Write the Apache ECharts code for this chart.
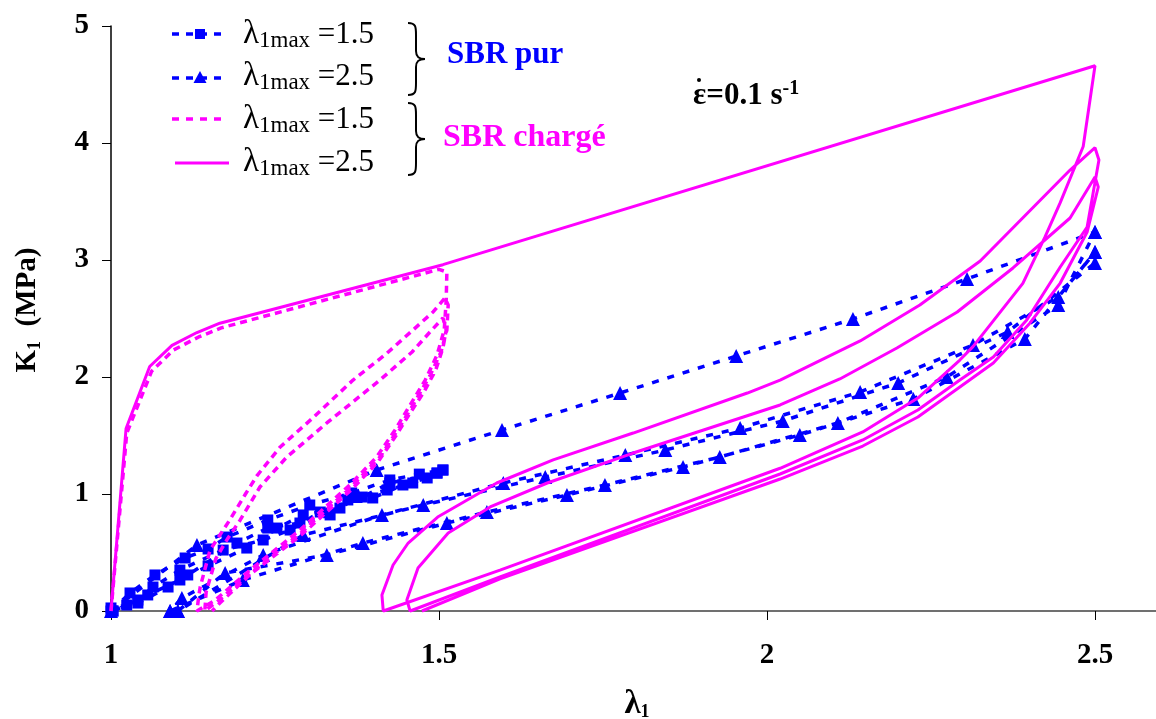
<!DOCTYPE html>
<html><head><meta charset="utf-8">
<script src="https://cdn.jsdelivr.net/npm/echarts@6/dist/echarts.min.js"></script>
<style>html,body{margin:0;padding:0;background:#fff}#c{width:1156px;height:719px}</style>
</head><body><div id="c"></div>
<script>
// ---- tick values ----
const xTicks = [1, 1.5, 2, 2.5];
const yTicks = [0, 1, 2, 3, 4, 5];

// ---- SBR pur, lambda1max = 1.5 (blue, squares) ----
const purA_load1 = [[1,0],[1.029,0.154],[1.067,0.308],[1.113,0.453],[1.148,0.53],[1.177,0.632],[1.239,0.778],[1.303,0.906],[1.367,1.009],[1.425,1.12],[1.47,1.17],[1.506,1.205]];
const purA_unload1 = [[1.506,1.205],[1.482,1.137],[1.445,1.077],[1.399,0.966],[1.375,0.97],[1.349,0.88],[1.293,0.821],[1.253,0.709],[1.207,0.538],[1.148,0.385],[1.105,0.265],[1.056,0.137],[1.024,0.051],[1.003,0]];
const purA_reload2 = [[1.003,0],[1.041,0.094],[1.064,0.205],[1.105,0.35],[1.171,0.521],[1.232,0.607],[1.273,0.692],[1.319,0.846],[1.383,0.974],[1.425,1.094],[1.497,1.179]];
const purA_unload2 = [[1.497,1.179],[1.46,1.094],[1.421,1.034],[1.361,0.949],[1.334,0.821],[1.288,0.752],[1.239,0.709],[1.192,0.581],[1.117,0.308],[1.087,0.205],[1.041,0.068],[1.0,0.026]];

// ---- SBR pur, lambda1max = 2.5 (blue, triangles) ----
const purB_load1 = [[1,0],[1.131,0.564],[1.405,1.205],[1.596,1.547],[1.776,1.863],[1.953,2.179],[2.131,2.496],[2.305,2.838],[2.5,3.239]];
const purB_unload1 = [[2.5,3.239],[2.444,2.615],[2.274,2.0],[2.108,1.607],[1.928,1.316],[1.753,1.077],[1.573,0.846],[1.384,0.581],[1.201,0.265],[1.09,0]];
const purB_reload2 = [[1.09,0],[1.108,0.111],[1.232,0.479],[1.413,0.821],[1.598,1.094],[1.784,1.333],[1.959,1.564],[2.142,1.872],[2.314,2.274],[2.444,2.684],[2.5,3.068]];
const purB_unload2 = [[2.5,3.068],[2.393,2.325],[2.223,1.812],[2.05,1.504],[1.872,1.231],[1.695,0.991],[1.512,0.752],[1.329,0.479],[1.174,0.325],[1.102,0]];
const purB_reload3 = [[1.102,0],[1.293,0.65],[1.476,0.906],[1.662,1.145],[1.845,1.376],[2.024,1.624],[2.2,1.949],[2.367,2.385],[2.5,2.974]];

// ---- SBR chargé, lambda1max = 1.5 (magenta dashed) ----
const chA_load1 = [[1,0],[1.024,1.52],[1.062,2.05],[1.095,2.23],[1.133,2.34],[1.168,2.42],[1.5,2.92]];
const chA_unload1 = [[1.5,2.92],[1.512,2.897],[1.511,2.658],[1.508,2.402],[1.497,2.188],[1.479,1.974],[1.456,1.761],[1.433,1.547],[1.405,1.316],[1.364,1.077],[1.288,0.692],[1.212,0.35],[1.159,0.094],[1.131,0]];
const chA_reload2 = [[1.131,0],[1.134,0.137],[1.136,0.205],[1.151,0.521],[1.181,0.778],[1.205,1.0],[1.223,1.16],[1.258,1.402],[1.308,1.652],[1.369,1.974],[1.42,2.2],[1.46,2.4],[1.491,2.556],[1.509,2.675]];
const chA_unload2 = [[1.509,2.675],[1.514,2.615],[1.512,2.402],[1.503,2.214],[1.486,2.009],[1.463,1.786],[1.439,1.564],[1.41,1.316],[1.367,1.068],[1.291,0.675],[1.215,0.333],[1.163,0.085],[1.143,0]];
const chA_reload3 = [[1.143,0],[1.145,0.162],[1.16,0.45],[1.178,0.62],[1.197,0.778],[1.227,1.06],[1.268,1.316],[1.329,1.607],[1.41,1.974],[1.459,2.214],[1.489,2.402],[1.506,2.504]];
const chA_unload3 = [[1.506,2.504],[1.511,2.402],[1.506,2.248],[1.495,2.06],[1.477,1.872],[1.457,1.701],[1.434,1.496],[1.407,1.274],[1.366,1.034],[1.29,0.65],[1.213,0.316],[1.166,0.068],[1.154,0]];

// ---- SBR chargé, lambda1max = 2.5 (magenta solid) ----
const chB_load1 = [[1,0],[1.023,1.56],[1.059,2.09],[1.093,2.27],[1.131,2.38],[1.166,2.46],[1.506,2.96],[2.5,4.66]];
const chB_unload1 = [[2.5,4.66],[2.482,3.97],[2.447,3.49],[2.424,3.2],[2.39,2.8],[2.314,2.26],[2.294,2.145],[2.23,1.82],[2.146,1.53],[2.02,1.22],[1.593,0.35],[1.415,0]];
const chB_reload2 = [[1.415,0],[1.413,0.137],[1.43,0.393],[1.453,0.581],[1.498,0.803],[1.588,1.094],[1.674,1.291],[1.796,1.521],[1.97,1.863],[2.02,1.974],[2.142,2.308],[2.233,2.615],[2.325,2.991],[2.462,3.769],[2.5,3.96]];
const chB_unload2 = [[2.5,3.96],[2.506,3.855],[2.488,3.282],[2.447,2.94],[2.396,2.487],[2.345,2.171],[2.294,1.974],[2.23,1.718],[2.146,1.462],[2.02,1.171],[1.593,0.291],[1.456,0]];
const chB_reload3 = [[1.456,0],[1.451,0.094],[1.468,0.368],[1.514,0.667],[1.578,0.889],[1.665,1.094],[1.796,1.35],[2.02,1.761],[2.111,1.983],[2.198,2.248],[2.29,2.556],[2.375,2.932],[2.462,3.359],[2.5,3.709]];
const chB_unload3 = [[2.5,3.709],[2.505,3.624],[2.488,3.239],[2.447,2.803],[2.401,2.462],[2.345,2.12],[2.294,1.915],[2.23,1.658],[2.146,1.41],[2.02,1.128],[1.593,0.274],[1.474,0]];

// ---- labels ----
const legendValues = ['1.5', '2.5', '1.5', '2.5'];
const groupLabels = ['SBR pur', 'SBR chargé'];

const BLUE = '#0000ff', MAG = '#ff00ff';
const SERIF = "'Liberation Serif', 'DejaVu Serif', serif";

const purA = [].concat(purA_load1, purA_unload1, purA_reload2, purA_unload2);
const purB = [].concat(purB_load1, purB_unload1, purB_reload2, purB_unload2, purB_reload3);
const chA = [].concat(chA_load1, chA_unload1, chA_reload2, chA_unload2, chA_reload3, chA_unload3);
const chB = [].concat(chB_load1, chB_unload1, chB_reload2, chB_unload2, chB_reload3, chB_unload3);

const chart = echarts.init(document.getElementById('c'));

function lamRich(v) { return '{l|λ}{s|1max}{e| =' + v + '}'; }
const lamStyleRich = {
  l: { fontSize: 33, fontFamily: SERIF, lineHeight: 36, fill: '#000' },
  s: { fontSize: 23, fontFamily: SERIF, lineHeight: 30, verticalAlign: 'bottom', fill: '#000' },
  e: { fontSize: 31, fontFamily: SERIF, lineHeight: 36, fill: '#000' }
};
const rowY = [34.5, 76.5, 119.5, 162.5];

const graphics = [];
// legend symbols
graphics.push({ type: 'line', shape: { x1: 172, y1: 34, x2: 222, y2: 34 }, style: { stroke: BLUE, lineWidth: 3.5, lineDash: [7, 7] } });
graphics.push({ type: 'rect', shape: { x: 195, y: 29, width: 10, height: 10 }, style: { fill: BLUE } });
graphics.push({ type: 'line', shape: { x1: 172, y1: 78, x2: 222, y2: 78 }, style: { stroke: BLUE, lineWidth: 3.5, lineDash: [7, 7] } });
graphics.push({ type: 'polygon', shape: { points: [[200, 71], [193.5, 83], [206.5, 83]] }, style: { fill: BLUE } });
graphics.push({ type: 'line', shape: { x1: 172, y1: 119, x2: 222, y2: 119 }, style: { stroke: MAG, lineWidth: 3.5, lineDash: [7, 7] } });
graphics.push({ type: 'line', shape: { x1: 175, y1: 163, x2: 229, y2: 163 }, style: { stroke: MAG, lineWidth: 3 } });
legendValues.forEach((v, i) => {
  graphics.push({ type: 'text', x: 243, y: rowY[i], style: { text: lamRich(v), rich: lamStyleRich, align: 'left', verticalAlign: 'middle' } });
});
// braces built from bezier curves and lines
function pushBrace(y0, y1, x0) {
  const m = (y0 + y1) / 2, xa = x0 + 8, xt = x0 + 17;
  const st = { stroke: '#000', lineWidth: 2, fill: null };
  graphics.push({ type: 'bezierCurve', shape: { x1: x0, y1: y0, cpx1: xa, cpy1: y0, cpx2: xa, cpy2: y0 + 4, x2: xa, y2: y0 + 12 }, style: st });
  graphics.push({ type: 'line', shape: { x1: xa, y1: y0 + 12, x2: xa, y2: m - 8 }, style: st });
  graphics.push({ type: 'bezierCurve', shape: { x1: xa, y1: m - 8, cpx1: xa, cpy1: m - 2, cpx2: xa + 3, cpy2: m, x2: xt, y2: m }, style: st });
  graphics.push({ type: 'bezierCurve', shape: { x1: xt, y1: m, cpx1: xa + 3, cpy1: m, cpx2: xa, cpy2: m + 2, x2: xa, y2: m + 8 }, style: st });
  graphics.push({ type: 'line', shape: { x1: xa, y1: m + 8, x2: xa, y2: y1 - 12 }, style: st });
  graphics.push({ type: 'bezierCurve', shape: { x1: xa, y1: y1 - 12, cpx1: xa, cpy1: y1 - 4, cpx2: xa, cpy2: y1, x2: x0, y2: y1 }, style: st });
}
pushBrace(23, 95, 408);
pushBrace(103, 175, 408);
graphics.push({ type: 'text', x: 447, y: 55, style: { text: groupLabels[0], fill: BLUE, fontSize: 31, fontWeight: 'bold', fontFamily: SERIF, align: 'left', verticalAlign: 'middle' } });
graphics.push({ type: 'text', x: 443, y: 138, style: { text: groupLabels[1], fill: MAG, fontSize: 32, fontWeight: 'bold', fontFamily: SERIF, align: 'left', verticalAlign: 'middle' } });
// strain rate annotation
graphics.push({ type: 'text', x: 693, y: 96, style: { text: '{m|ε=0.1 s}{p|-1}', rich: {
  m: { fontSize: 31, fontWeight: 'bold', fontFamily: SERIF, lineHeight: 34, fill: '#000' },
  p: { fontSize: 20, fontWeight: 'bold', fontFamily: SERIF, lineHeight: 22, verticalAlign: 'top', fill: '#000' }
}, align: 'left', verticalAlign: 'middle' } });
graphics.push({ type: 'circle', shape: { cx: 699, cy: 80, r: 2 }, style: { fill: '#000' } });
// axis names
graphics.push({ type: 'text', x: 28, y: 310, rotation: Math.PI / 2, style: { text: '{k|K}{s|1}{k|  (MPa)}', rich: {
  k: { fontSize: 29, fontWeight: 'bold', fontFamily: SERIF, lineHeight: 32, fill: '#000' },
  s: { fontSize: 18, fontWeight: 'bold', fontFamily: SERIF, lineHeight: 26, verticalAlign: 'bottom', fill: '#000' }
}, align: 'center', verticalAlign: 'middle' } });
graphics.push({ type: 'text', x: 637, y: 704, style: { text: '{l|λ}{s|1}', rich: {
  l: { fontSize: 33, fontWeight: 'bold', fontFamily: SERIF, lineHeight: 34, fill: '#000' },
  s: { fontSize: 18, fontWeight: 'bold', fontFamily: SERIF, lineHeight: 26, verticalAlign: 'bottom', fill: '#000' }
}, align: 'center', verticalAlign: 'middle' } });

function lineSeries(name, data, color, width, dash, symbol, size, z) {
  return {
    name, type: 'line', data, clip: false, z,
    symbol: symbol || 'none', symbolSize: size || 0, showSymbol: !!symbol, showAllSymbol: true,
    itemStyle: { color }, lineStyle: { color, width, type: dash || 'solid' },
    emphasis: { disabled: true }, animation: false
  };
}

chart.setOption({
  animation: false,
  backgroundColor: '#fff',
  grid: { left: 111, right: -4.6, top: 26, bottom: 108, containLabel: false, outerBoundsMode: 'none' },
  xAxis: {
    type: 'value', min: 1, max: 2.6, interval: 0.5,
    axisLine: { show: true, onZero: false, lineStyle: { color: '#707070', width: 2 } },
    axisTick: { show: true, length: 9, lineStyle: { color: '#000', width: 1 } },
    axisLabel: { margin: 30, color: '#000', fontSize: 29, fontWeight: 'bold', fontFamily: SERIF,
      formatter: v => (xTicks.some(t => Math.abs(t - v) < 1e-9) ? String(v) : '') },
    splitLine: { show: false }
  },
  yAxis: {
    type: 'value', min: 0, max: 5, interval: 1,
    axisLine: { show: true, onZero: false, lineStyle: { color: '#000', width: 1.5 } },
    axisTick: { show: true, length: 9, lineStyle: { color: '#000', width: 1 } },
    axisLabel: { margin: 22, color: '#000', fontSize: 29, fontWeight: 'bold', fontFamily: SERIF,
      formatter: v => (yTicks.includes(v) ? String(v) : '') },
    splitLine: { show: false }
  },
  series: [
    lineSeries('SBR pur 1.5', purA, BLUE, 3.5, [7, 9], 'rect', 11, 2),
    lineSeries('SBR pur 2.5', purB, BLUE, 3.5, [7, 9], 'triangle', 14, 2),
    lineSeries('SBR chargé 1.5', chA, MAG, 3.5, [7, 5], null, 0, 3),
    lineSeries('SBR chargé 2.5', chB, MAG, 3, 'solid', null, 0, 4)
  ],
  graphic: graphics
});
</script>
</body></html>
